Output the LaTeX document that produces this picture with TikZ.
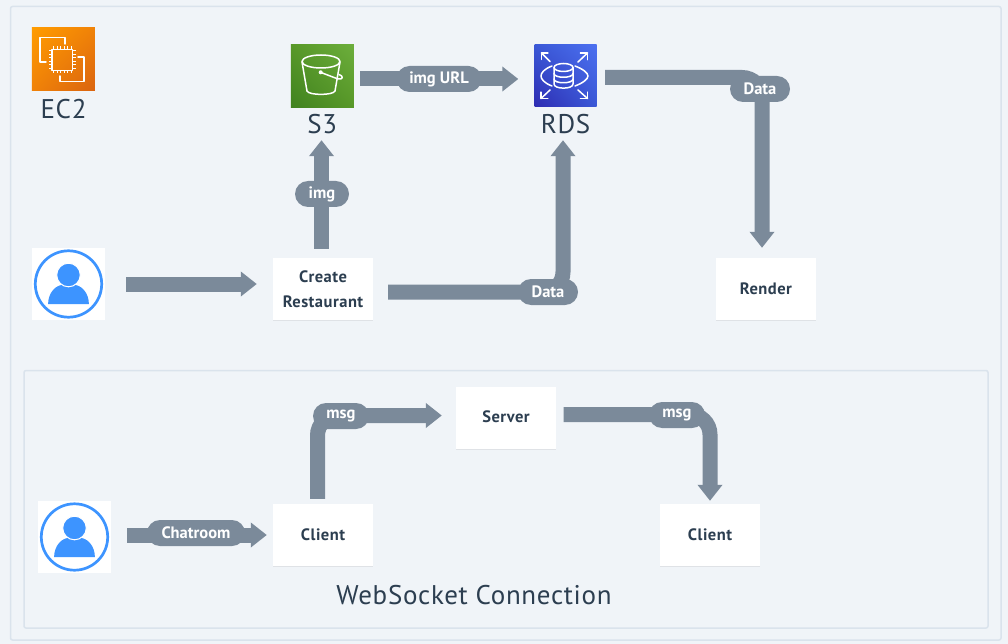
\documentclass[tikz,border=0pt]{standalone}
\usepackage{fontspec}
\setmainfont{PT Sans}
\newfontfamily\wideface[LetterSpace=2.5]{PT Sans}
\newfontfamily\boxface[LetterSpace=3]{PT Sans}
\usetikzlibrary{arrows.meta,shadows,shadings}
\definecolor{pagebg}{HTML}{F0F4F8}
\definecolor{framec}{HTML}{DAE3EC}
\definecolor{flowc}{HTML}{7B8A9A}
\definecolor{inkc}{HTML}{2C3E50}
\definecolor{userc}{HTML}{3D94FF}
\definecolor{ecA}{RGB}{255,156,0}
\definecolor{ecB}{RGB}{240,130,8}
\definecolor{ecC}{RGB}{218,100,16}
\definecolor{sA}{RGB}{88,152,40}
\definecolor{sB}{RGB}{108,174,60}
\definecolor{sC}{RGB}{64,130,32}
\definecolor{rA}{RGB}{58,88,214}
\definecolor{rB}{RGB}{76,112,240}
\definecolor{rC}{RGB}{46,44,178}
\tikzset{
  frame/.style={draw=framec,line width=1.5pt,rounded corners=2pt,fill=pagebg},
  flow/.style={draw=flowc,line width=15pt,rounded corners=20pt,-{Triangle[width=24pt,length=16pt]}},
  pill/.style={fill=flowc,rounded corners=13pt,minimum height=26pt,inner sep=0pt,text=white,font=\fontsize{16.5}{16.5}\selectfont\bfseries},
  box/.style={fill=white,minimum width=100pt,minimum height=62pt,inner sep=0pt,align=center,text=inkc,
    font=\boxface\fontsize{16.5}{24.5}\selectfont\bfseries,general shadow={fill=black,opacity=.07,shadow yshift=-1pt}},
  iconlabel/.style={text=inkc,inner sep=0pt,font=\wideface\fontsize{27}{27}\selectfont},
  userbox/.style={fill=white,minimum width=73pt,minimum height=72pt,inner sep=0pt},
  iconbox/.style={minimum width=63pt,minimum height=63pt,inner sep=0pt},
  glyph/.style={draw=white,line width=1.5pt,line join=round,line cap=round},
  userglyph/.pic={
    \draw[userc,line width=2.7pt] (0,0) circle (33.2);
    \fill[userc] (-20.4,20.2) .. controls (-20.4,8) and (-12,1) .. (-6,1) -- (6,1) .. controls (12,1) and (20.4,8) .. (20.4,20.2) -- cycle;
    \fill[userc,draw=white,line width=1pt] (0,-9) circle (11.8);
  }
}
\begin{document}
\begin{tikzpicture}[x=1pt,y=-1pt]
\useasboundingbox (0,0) rectangle (1008,644);
\fill[pagebg] (0,0) rectangle (1008,644);
\draw[frame] (10.5,6.5) rectangle (1001,640);
\draw[frame] (24,370.5) rectangle (988,628);

% icons
\node[iconbox,shade,upper left=ecA,upper right=ecB,lower left=ecB,lower right=ecC] (ec2) at (63.25,59.25) {};
\node[iconlabel] (ec2lab) at (63.5,109.5) {EC2};
\node[iconbox,shade,upper left=sA,upper right=sB,lower left=sC,lower right=sA] (s3) at (322.25,75.75) {};
\node[iconlabel,minimum height=32pt] (s3lab) at (322.25,124) {S3};
\node[iconbox,minimum height=62pt,minimum width=62pt,shade,upper left=rA,upper right=rB,lower left=rC,lower right=rA] (rds) at (565.5,75.25) {};
\node[iconlabel,minimum height=32pt] (rdslab) at (565.5,124) {RDS};

% EC2 glyph
\draw[glyph] (46,62) -- (40,62) -- (40,37.5) -- (65,37.5) -- (65,44);
\draw[glyph] (78,57) -- (84,57) -- (84,81.5) -- (60,81.5) -- (60,76);
\draw[glyph] (52,49.5) rectangle (72.5,70.5);
\foreach \t in {0,1,2,3,4,5}{
  \draw[draw=white,line width=1pt] (53.5+\t*3.5,46.5) -- ++(0,3);
  \draw[draw=white,line width=1pt] (53.5+\t*3.5,70.5) -- ++(0,3);
  \draw[draw=white,line width=1pt] (49,51+\t*3.5) -- ++(3,0);
  \draw[draw=white,line width=1pt] (72.5,51+\t*3.5) -- ++(3,0);
}
% S3 glyph
\draw[glyph] (321,61.5) ellipse (19 and 6.5);
\draw[glyph] (302,62) -- (307,91) .. controls (309,95.5) and (333,95.5) .. (335,91) -- (340,62);
\draw[glyph] (321,72.5) -- (338,79) .. controls (343,80) and (344,76) .. (339,74.5);
\fill[white] (320.7,72.3) circle (2);
% RDS glyph
\foreach \ax/\ay/\bx/\by in {541.5/53/550/61.5, 587.5/53/578/62, 541/98.5/550/90, 587.5/98.5/578/90}{
  \draw[glyph] (\bx,\by) -- (\ax,\ay);
  \draw[glyph] (\ax,{\ay+(\by-\ay)*0.75}) -- (\ax,\ay) -- ({\ax+(\bx-\ax)*0.75},\ay);
}
\draw[glyph] (552,66) .. controls (544,69) and (541,73) .. (541,76) .. controls (541,79) and (544,83) .. (552,86);
\draw[glyph] (575,66) .. controls (583,69) and (588,73) .. (588,76) .. controls (588,79) and (583,83) .. (575,86);
\draw[glyph] (563.5,67.5) ellipse (9.5 and 4);
\draw[glyph] (554,67.5) -- (554,84) .. controls (554,89.5) and (573,89.5) .. (573,84) -- (573,67.5);
\draw[glyph] (554,73.5) .. controls (554,78.5) and (573,78.5) .. (573,73.5);
\draw[glyph] (554,79) .. controls (554,84) and (573,84) .. (573,79);

% nodes
\node[userbox] (user1) at (68.5,284) {};
\pic at (user1.center) {userglyph};
\node[box] (create) at (323,289) {\raisebox{-0.5pt}{Create}\\\raisebox{-0.5pt}{Restaurant}};
\node[box] (render) at (766,289) {Render};
\node[userbox] (user2) at (74.5,537) {};
\pic at (user2.center) {userglyph};
\node[box] (client1) at (323,535) {\raisebox{1pt}{Client}};
\node[box] (server) at (506,418) {\raisebox{2pt}{Server}};
\node[box] (client2) at (710,535) {\raisebox{1pt}{Client}};

% connector anchors
\coordinate (a1) at ([yshift=-3pt]create.east);
\coordinate (a2) at ([yshift=-2.25pt]rds.east);
\coordinate (a3) at ([xshift=-4pt]render.north);
\coordinate (a4) at ([xshift=-1.5pt]create.north);
\coordinate (a5) at ([xshift=-5.5pt]client1.north);
\coordinate (a6) at ([yshift=3.5pt]server.east);
\coordinate (a7) at ([yshift=-3.25pt]s3.east);
\coordinate (a8) at ([yshift=-3.25pt]rds.west);
\coordinate (a9) at ([xshift=-2.5pt]rdslab.south);
\coordinate (a10) at ([yshift=2.5pt]server.west);

% connectors
\draw[flow,shorten <=21pt,shorten >=16pt] (user1.east) -- (user1.east -| create.west);
\draw[flow,shorten <=9pt] (a4) -- (a4 |- s3lab.south);
\draw[flow,shorten <=6pt,shorten >=16pt] (a7) -- (a7 -| a8);
\draw[flow,shorten <=15pt] (a1) -| (a9);
\draw[flow,shorten <=8.5pt,shorten >=10pt] (a2) -| (a3);
\draw[flow,shorten <=16pt,shorten >=6pt] (user2.east |- client1.west) -- (client1.west);
\draw[flow,shorten <=5pt,shorten >=14pt] (a5) |- (a10);
\draw[flow,shorten <=7.5pt,shorten >=3pt] (a6) -| (client2.north);

% labels
\node[pill,minimum width=54pt] (limg) at (322,194) {img};
\node[pill,minimum width=85pt] (lurl) at (439,79) {img URL};
\node[pill,minimum width=60pt] (ldata1) at (548,292) {Data};
\node[pill,minimum width=60pt] (ldata2) at (760,89) {Data};
\node[pill,minimum width=98pt] (lchat) at (196,533) {Chatroom};
\node[pill,minimum width=56pt] (lmsg1) at (341,416) {msg};
\node[pill,minimum width=56pt] (lmsg2) at (677,415) {msg};
\node[text=inkc,inner sep=0pt,font=\wideface\fontsize{27}{27}\selectfont] (wslab) at (474,595) {WebSocket Connection};
\end{tikzpicture}
\end{document}
